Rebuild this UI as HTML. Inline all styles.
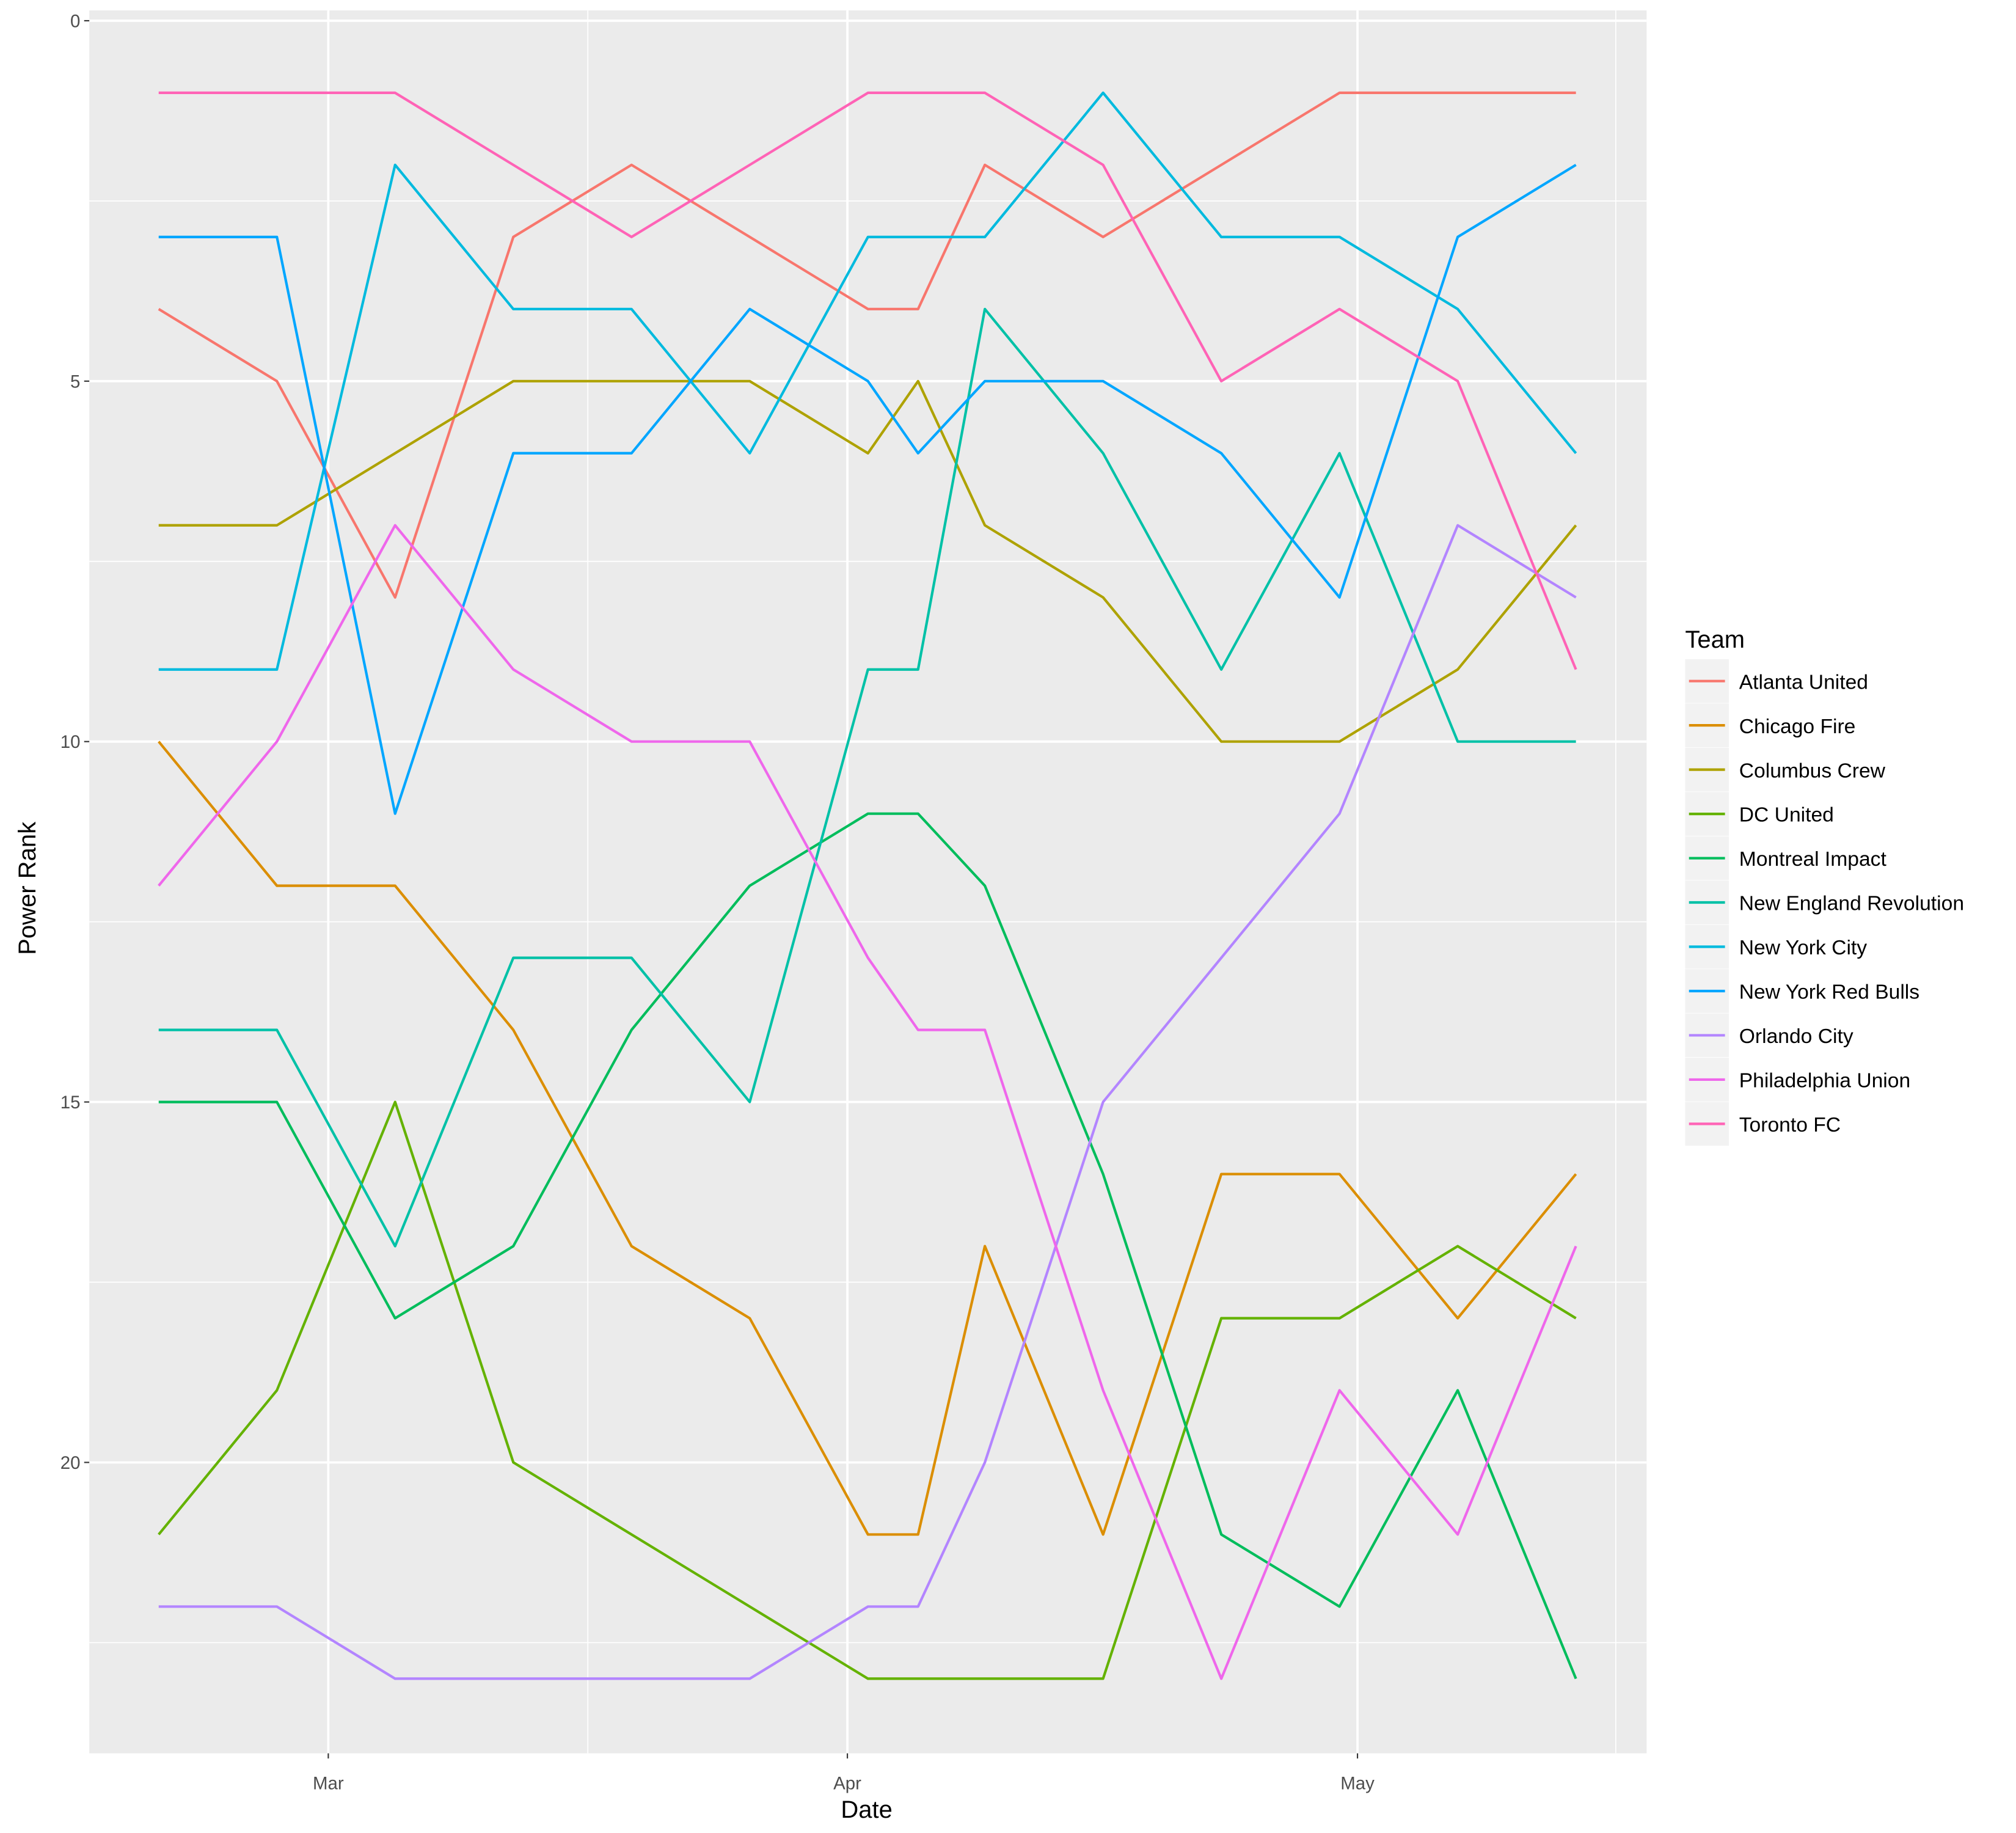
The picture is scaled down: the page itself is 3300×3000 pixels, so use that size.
<!DOCTYPE html>
<html><head><meta charset="utf-8"><style>html,body{margin:0;padding:0;background:#fff}svg{display:block}</style></head>
<body>
<svg width="3300" height="3000" viewBox="-1.5 -0.1 1569 1424" preserveAspectRatio="none" xmlns="http://www.w3.org/2000/svg" font-family="Liberation Sans, sans-serif">
<rect x="-10" y="-10" width="1600" height="1450" fill="#fff"/>
<rect x="68" y="8" width="1212" height="1354" fill="#EBEBEB"/>
<g stroke="#fff" stroke-width="0.8">
<line x1="68" x2="1280" y1="156" y2="156"/><line x1="68" x2="1280" y1="436" y2="436"/><line x1="68" x2="1280" y1="716" y2="716"/><line x1="68" x2="1280" y1="996" y2="996"/><line x1="68" x2="1280" y1="1276" y2="1276"/>
<line y1="8" y2="1362" x1="456" x2="456"/><line y1="8" y2="1362" x1="1256" x2="1256"/>
</g>
<g stroke="#fff" stroke-width="1.8">
<line x1="68" x2="1280" y1="16" y2="16"/><line x1="68" x2="1280" y1="296" y2="296"/><line x1="68" x2="1280" y1="576" y2="576"/><line x1="68" x2="1280" y1="856" y2="856"/><line x1="68" x2="1280" y1="1136" y2="1136"/>
<line y1="8" y2="1362" x1="254" x2="254"/><line y1="8" y2="1362" x1="658" x2="658"/><line y1="8" y2="1362" x1="1055" x2="1055"/>
</g>
<g font-size="14" fill="#4D4D4D" text-anchor="end">
<text x="61" y="21">0</text><text x="61" y="301">5</text><text x="61" y="581">10</text><text x="61" y="861">15</text><text x="61" y="1141">20</text>
</g>
<g stroke="#333" stroke-width="1"><line x1="64" x2="68" y1="16" y2="16"/><line x1="64" x2="68" y1="296" y2="296"/><line x1="64" x2="68" y1="576" y2="576"/><line x1="64" x2="68" y1="856" y2="856"/><line x1="64" x2="68" y1="1136" y2="1136"/>
<line y1="1362" y2="1366" x1="254" x2="254"/><line y1="1362" y2="1366" x1="658" x2="658"/><line y1="1362" y2="1366" x1="1055" x2="1055"/></g>
<g font-size="14" fill="#4D4D4D" text-anchor="middle">
<text x="254" y="1390">Mar</text><text x="658" y="1390">Apr</text><text x="1055" y="1390">May</text>
</g>
<text x="673" y="1412" font-size="19" text-anchor="middle">Date</text>
<text transform="translate(26,690) rotate(-90)" font-size="19" text-anchor="middle">Power Rank</text>
<g fill="none" stroke-width="2" stroke-linejoin="round">
<polyline stroke="#F8766D" points="122,240 214,296 306,464 398,184 490,128 582,184 674,240 713,240 765,128 857,184 949,128 1041,72 1133,72 1225,72"/>
<polyline stroke="#DB8E00" points="122,576 214,688 306,688 398,800 490,968 582,1024 674,1192 713,1192 765,968 857,1192 949,912 1041,912 1133,1024 1225,912"/>
<polyline stroke="#AEA200" points="122,408 214,408 306,352 398,296 490,296 582,296 674,352 713,296 765,408 857,464 949,576 1041,576 1133,520 1225,408"/>
<polyline stroke="#64B200" points="122,1192 214,1080 306,856 398,1136 490,1192 582,1248 674,1304 713,1304 765,1304 857,1304 949,1024 1041,1024 1133,968 1225,1024"/>
<polyline stroke="#00BD5C" points="122,856 214,856 306,1024 398,968 490,800 582,688 674,632 713,632 765,688 857,912 949,1192 1041,1248 1133,1080 1225,1304"/>
<polyline stroke="#00C1A7" points="122,800 214,800 306,968 398,744 490,744 582,856 674,520 713,520 765,240 857,352 949,520 1041,352 1133,576 1225,576"/>
<polyline stroke="#00BADE" points="122,520 214,520 306,128 398,240 490,240 582,352 674,184 713,184 765,184 857,72 949,184 1041,184 1133,240 1225,352"/>
<polyline stroke="#00A6FF" points="122,184 214,184 306,632 398,352 490,352 582,240 674,296 713,352 765,296 857,296 949,352 1041,464 1133,184 1225,128"/>
<polyline stroke="#B385FF" points="122,1248 214,1248 306,1304 398,1304 490,1304 582,1304 674,1248 713,1248 765,1136 857,856 949,744 1041,632 1133,408 1225,464"/>
<polyline stroke="#EF67EB" points="122,688 214,576 306,408 398,520 490,576 582,576 674,744 713,800 765,800 857,1080 949,1304 1041,1080 1133,1192 1225,968"/>
<polyline stroke="#FF63B6" points="122,72 214,72 306,72 398,128 490,184 582,128 674,72 713,72 765,72 857,128 949,296 1041,240 1133,296 1225,520"/>
</g>
<text x="1310" y="503" font-size="19">Team</text>
<g font-size="16" fill="#000">
<g transform="translate(0,0)"><rect x="1310" y="512" width="34" height="34" fill="#F2F2F2"/><line x1="1313" x2="1341" y1="529" y2="529" stroke="#F8766D" stroke-width="2"/><text x="1352" y="535">Atlanta United</text></g>
<g transform="translate(0,34.4)"><rect x="1310" y="512" width="34" height="34" fill="#F2F2F2"/><line x1="1313" x2="1341" y1="529" y2="529" stroke="#DB8E00" stroke-width="2"/><text x="1352" y="535">Chicago Fire</text></g>
<g transform="translate(0,68.8)"><rect x="1310" y="512" width="34" height="34" fill="#F2F2F2"/><line x1="1313" x2="1341" y1="529" y2="529" stroke="#AEA200" stroke-width="2"/><text x="1352" y="535">Columbus Crew</text></g>
<g transform="translate(0,103.2)"><rect x="1310" y="512" width="34" height="34" fill="#F2F2F2"/><line x1="1313" x2="1341" y1="529" y2="529" stroke="#64B200" stroke-width="2"/><text x="1352" y="535">DC United</text></g>
<g transform="translate(0,137.6)"><rect x="1310" y="512" width="34" height="34" fill="#F2F2F2"/><line x1="1313" x2="1341" y1="529" y2="529" stroke="#00BD5C" stroke-width="2"/><text x="1352" y="535">Montreal Impact</text></g>
<g transform="translate(0,172)"><rect x="1310" y="512" width="34" height="34" fill="#F2F2F2"/><line x1="1313" x2="1341" y1="529" y2="529" stroke="#00C1A7" stroke-width="2"/><text x="1352" y="535">New England Revolution</text></g>
<g transform="translate(0,206.4)"><rect x="1310" y="512" width="34" height="34" fill="#F2F2F2"/><line x1="1313" x2="1341" y1="529" y2="529" stroke="#00BADE" stroke-width="2"/><text x="1352" y="535">New York City</text></g>
<g transform="translate(0,240.8)"><rect x="1310" y="512" width="34" height="34" fill="#F2F2F2"/><line x1="1313" x2="1341" y1="529" y2="529" stroke="#00A6FF" stroke-width="2"/><text x="1352" y="535">New York Red Bulls</text></g>
<g transform="translate(0,275.2)"><rect x="1310" y="512" width="34" height="34" fill="#F2F2F2"/><line x1="1313" x2="1341" y1="529" y2="529" stroke="#B385FF" stroke-width="2"/><text x="1352" y="535">Orlando City</text></g>
<g transform="translate(0,309.6)"><rect x="1310" y="512" width="34" height="34" fill="#F2F2F2"/><line x1="1313" x2="1341" y1="529" y2="529" stroke="#EF67EB" stroke-width="2"/><text x="1352" y="535">Philadelphia Union</text></g>
<g transform="translate(0,344)"><rect x="1310" y="512" width="34" height="34" fill="#F2F2F2"/><line x1="1313" x2="1341" y1="529" y2="529" stroke="#FF63B6" stroke-width="2"/><text x="1352" y="535">Toronto FC</text></g>
</g>
</svg>
</body></html>
